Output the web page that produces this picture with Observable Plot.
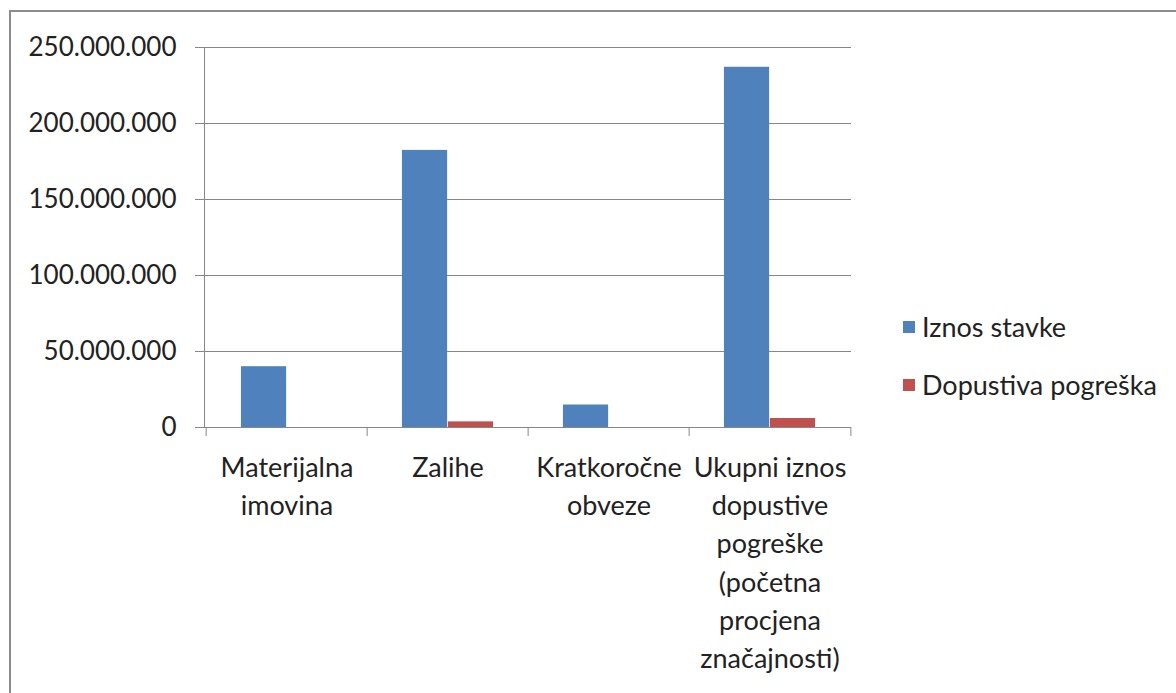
<!DOCTYPE html>
<html><head><meta charset="utf-8">
<script src="https://cdn.jsdelivr.net/npm/d3@7"></script>
<script src="https://cdn.jsdelivr.net/npm/@observablehq/plot@0.6"></script>
<style>
body{margin:0;background:#fff;}
#wrap{position:relative;width:1176px;height:693px;overflow:hidden;font-family:Lato,sans-serif;color:#222;}
#border{position:absolute;left:9px;top:10px;width:1300px;height:900px;border:2px solid #8c8c8c;box-sizing:border-box;}
#chart{position:absolute;left:0;top:0;}
.leg{position:absolute;left:903px;font-size:27px;line-height:27px;display:flex;align-items:center;white-space:nowrap;}
.sw{width:12px;height:12px;margin-right:7px;display:inline-block;}
</style></head>
<body>
<div id="wrap">
  <div id="border"></div>
  <div id="chart"></div>
  <div id="legend"></div>
</div>
<script>
const categories = ["Materijalna\nimovina", "Zalihe", "Kratkoročne\nobveze", "Ukupni iznos\ndopustive\npogreške\n(početna\nprocjena\nznačajnosti)"];
const series = ["Iznos stavke", "Dopustiva pogreška"];
const iznosStavke = [40.0e6, 182.3e6, 14.8e6, 237.0e6];
const dopustivaPogreska = [0, 3.7e6, 0, 5.9e6];
const yTicks = [0, 50e6, 100e6, 150e6, 200e6, 250e6];
const colors = ["#4F81BD", "#C0504D"];

const rows = [];
categories.forEach((c, i) => {
  rows.push({category: c, series: series[0], value: iznosStavke[i]});
  rows.push({category: c, series: series[1], value: dopustivaPogreska[i]});
});

const W = 1176, H = 693, ml = 204, mr = 325, mt = 47, mb = 266;
const bw = (W - ml - mr) / categories.length;
const fmt = d => d3.format(",")(d).replace(/,/g, ".");
const gridColor = "#868686";

const chart = Plot.plot({
  width: W, height: H,
  marginLeft: ml, marginRight: mr, marginTop: mt, marginBottom: mb,
  style: {fontFamily: "Lato, sans-serif", fontSize: "26px", color: "#222", background: "transparent", overflow: "visible"},
  x: {domain: categories, padding: 0, axis: null},
  y: {domain: [0, 250e6], axis: null},
  color: {domain: series, range: colors},
  marks: [
    Plot.gridY(yTicks, {stroke: gridColor, strokeOpacity: 1, strokeWidth: 1}),
    Plot.axisY(yTicks, {tickSize: 9, tickPadding: 19, stroke: gridColor, strokeOpacity: 1, tickFormat: fmt, fontSize: 26, fill: "#222", label: null}),
    Plot.frame({anchor: "left", stroke: gridColor, strokeOpacity: 1}),
    Plot.axisX({tickSize: 9, text: null, dx: -bw / 2, stroke: gridColor, strokeOpacity: 1, label: null}),
    Plot.axisX([categories[categories.length - 1]], {tickSize: 9, text: null, dx: bw / 2, stroke: gridColor, strokeOpacity: 1, label: null}),
    Plot.barY(rows.filter(d => d.series === series[0]), {x: "category", y: "value", fill: "series", insetLeft: bw * 0.216, insetRight: bw * 0.5}),
    Plot.barY(rows.filter(d => d.series === series[1]), {x: "category", y: "value", fill: "series", insetLeft: bw * 0.5, insetRight: bw * 0.216}),
    Plot.ruleY([0], {stroke: gridColor, strokeWidth: 1}),
    Plot.axisX({tickSize: 0, tickPadding: 22, lineHeight: 1.42, fontSize: 27, fill: "#222", label: null})
  ]
});
document.getElementById("chart").appendChild(chart);

const legend = document.getElementById("legend");
const legTops = [313, 371];
series.forEach((s, i) => {
  const el = document.createElement("div");
  el.className = "leg";
  el.style.top = legTops[i] + "px";
  el.innerHTML = `<span class="sw" style="background:${colors[i]}"></span><span>${s}</span>`;
  legend.appendChild(el);
});
</script>
</body></html>
